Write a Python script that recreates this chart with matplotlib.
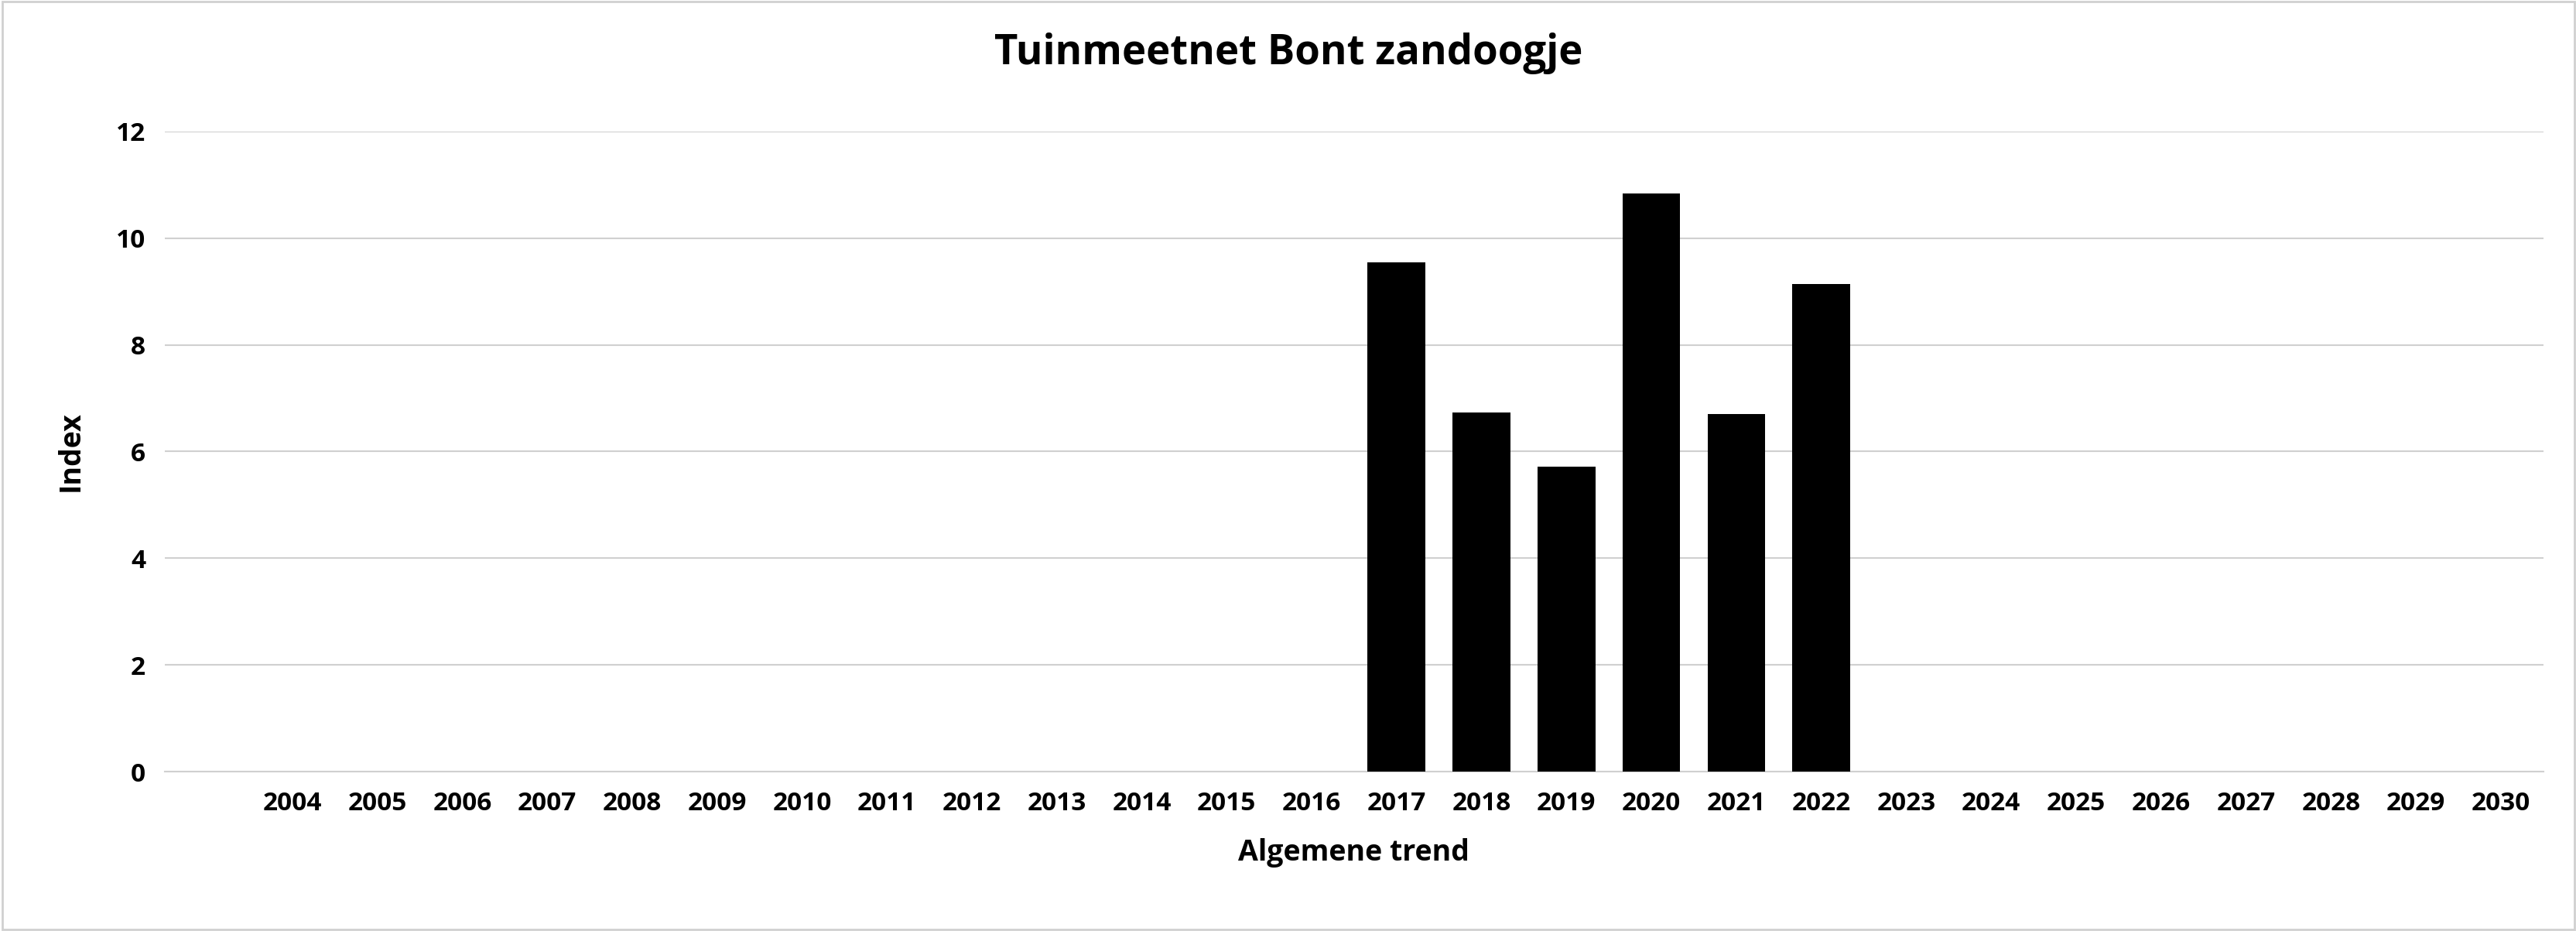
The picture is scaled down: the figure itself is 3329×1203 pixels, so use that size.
import matplotlib
matplotlib.use("Agg")
import matplotlib.pyplot as plt
from matplotlib.patches import Rectangle

# data
years = [""] + [str(y) for y in range(2004, 2031)]
values = [0] * 14 + [9.54, 6.73, 5.71, 10.83, 6.70, 9.14] + [0] * 8

plt.rcParams["font.family"] = ["Open Sans", "DejaVu Sans"]
plt.rcParams["font.weight"] = "bold"

fig = plt.figure(figsize=(33.3, 12.03), dpi=100)
ax = fig.add_axes([0.064, 0.171, 0.923, 0.688])

x = list(range(len(years)))
ax.bar(x, values, width=0.68, color="black", zorder=3)

ax.set_xlim(-0.5, len(years) - 0.5)
ax.set_ylim(0, 12)
ax.set_yticks(range(0, 13, 2))
ax.set_xticks(x)
ax.set_xticklabels(years)
ax.tick_params(axis="both", length=0, labelsize=24, pad=18)
ax.grid(axis="y", color="#d0d0d0", linewidth=1.5, zorder=0)
for s in ["top", "right", "left"]:
    ax.spines[s].set_visible(False)
ax.spines["bottom"].set_color("#d0d0d0")
ax.spines["bottom"].set_linewidth(1.5)

ax.set_xlabel("Algemene trend", fontsize=27, fontweight="bold", labelpad=20)
ax.set_ylabel("Index", fontsize=27, fontweight="bold", labelpad=28)
fig.suptitle("Tuinmeetnet Bont zandoogje", fontsize=38, fontweight="bold", y=0.965)

fig.patches.append(Rectangle((0.001, 0.002), 0.998, 0.996, transform=fig.transFigure,
                             fill=False, edgecolor="#d0d0d0", linewidth=2))
fig.savefig("out.png", dpi=100)
